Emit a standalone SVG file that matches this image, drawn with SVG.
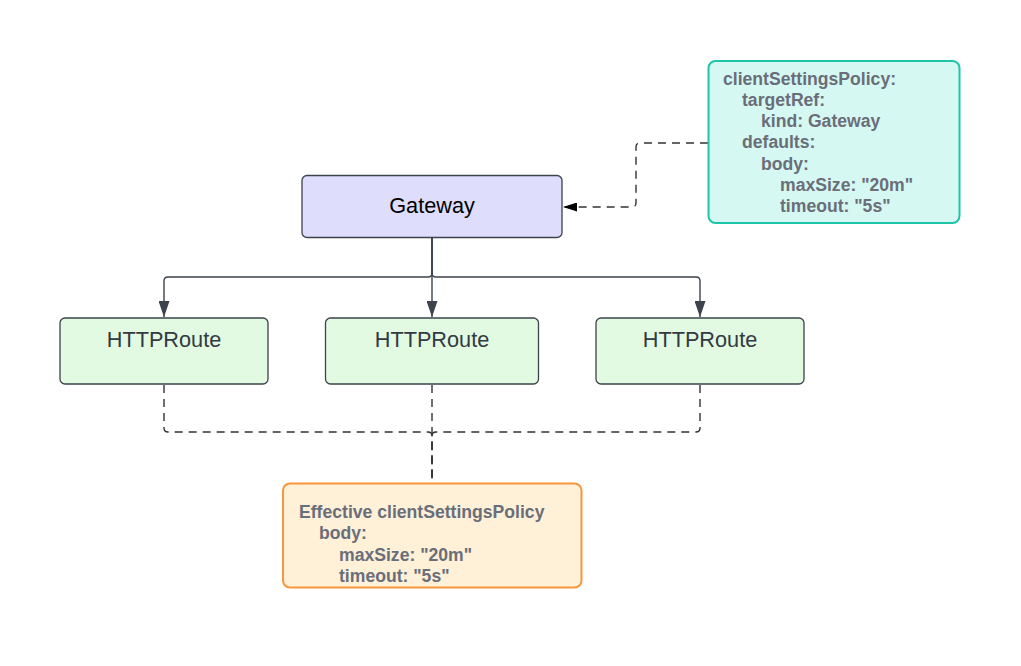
<svg xmlns="http://www.w3.org/2000/svg" width="1021" height="666" viewBox="0 0 1021 666">
  <style>
    .box { stroke-width: 1.3; }
    .gw { fill: #dedefc; stroke: #3d434c; }
    .rt { fill: #e2f9e2; stroke: #3d434c; }
    .teal { fill: #d6f8f2; stroke: #1ec5a9; stroke-width: 2; }
    .orange { fill: #fff0d8; stroke: #f7963a; stroke-width: 2; }
    .lbl { font-family: "Liberation Sans", Arial, sans-serif; font-size: 21.7px; text-anchor: middle; }
    .code { font-family: "Liberation Sans", Arial, sans-serif; font-size: 17.6px; font-weight: bold; fill: #6a6e79; }
    .solid { fill: none; stroke: #3d434c; stroke-width: 1.4; }
    .dash { fill: none; stroke: #333333; stroke-width: 1.4; stroke-dasharray: 8 6; }
  </style>
  <defs>
    <marker id="arrowSolid" markerUnits="userSpaceOnUse" viewBox="0 0 16 11" refX="16" refY="5.5" markerWidth="16" markerHeight="11" orient="auto">
      <path d="M0,0 L16,5.5 L0,11 Z" fill="#3d434c"/>
    </marker>
    <marker id="arrowBlack" markerUnits="userSpaceOnUse" viewBox="0 0 14 9" refX="14" refY="4.5" markerWidth="14" markerHeight="9" orient="auto">
      <path d="M0,0 L14,4.5 L0,9 Z" fill="#000000"/>
    </marker>
  </defs>
  <rect width="1021" height="666" fill="#ffffff"/>

  <g id="connectors">
    <path class="solid" d="M432,238 V273 Q432,277 428,277 H168 Q164,277 164,281 V317" marker-end="url(#arrowSolid)"/>
    <path class="solid" d="M432,238 V317" marker-end="url(#arrowSolid)"/>
    <path class="solid" d="M432,238 V273 Q432,277 436,277 H696 Q700,277 700,281 V317" marker-end="url(#arrowSolid)"/>
    <path class="dash" d="M708,143 H640 Q636,143 636,147 V203 Q636,207 632,207 H563" marker-end="url(#arrowBlack)"/>
    <path class="dash" d="M164,385 V428 Q164,432 168,432 H428 Q432,432 432,436 V483"/>
    <path class="dash" d="M432,385 V483"/>
    <path class="dash" d="M700,385 V428 Q700,432 696,432 H436 Q432,432 432,436 V483"/>
  </g>

  <g id="gateway">
    <rect class="box gw" x="302" y="175.5" width="260" height="62" rx="5"/>
    <text class="lbl" x="432" y="213" fill="#000000">Gateway</text>
  </g>

  <g id="route1">
    <rect class="box rt" x="60" y="318" width="208" height="66" rx="5"/>
    <text class="lbl" x="164" y="347" fill="#333a42">HTTPRoute</text>
  </g>
  <g id="route2">
    <rect class="box rt" x="325.5" y="318" width="213" height="66" rx="5"/>
    <text class="lbl" x="432" y="347" fill="#333a42">HTTPRoute</text>
  </g>
  <g id="route3">
    <rect class="box rt" x="596" y="318" width="208" height="66" rx="5"/>
    <text class="lbl" x="700" y="347" fill="#333a42">HTTPRoute</text>
  </g>

  <g id="policy">
    <rect class="teal" x="708.5" y="61" width="251" height="162" rx="7"/>
    <text class="code" x="723" y="84.5">clientSettingsPolicy:</text>
    <text class="code" x="742" y="105.8">targetRef:</text>
    <text class="code" x="761" y="127.1">kind: Gateway</text>
    <text class="code" x="742" y="148.4">defaults:</text>
    <text class="code" x="761" y="169.7">body:</text>
    <text class="code" x="780" y="191">maxSize: "20m"</text>
    <text class="code" x="780" y="212.3">timeout: "5s"</text>
  </g>

  <g id="effective">
    <rect class="orange" x="283" y="483.5" width="298.5" height="104" rx="7"/>
    <text class="code" x="299" y="518">Effective clientSettingsPolicy</text>
    <text class="code" x="319" y="539.3">body:</text>
    <text class="code" x="339" y="560.6">maxSize: "20m"</text>
    <text class="code" x="339" y="581.9">timeout: "5s"</text>
  </g>
</svg>
